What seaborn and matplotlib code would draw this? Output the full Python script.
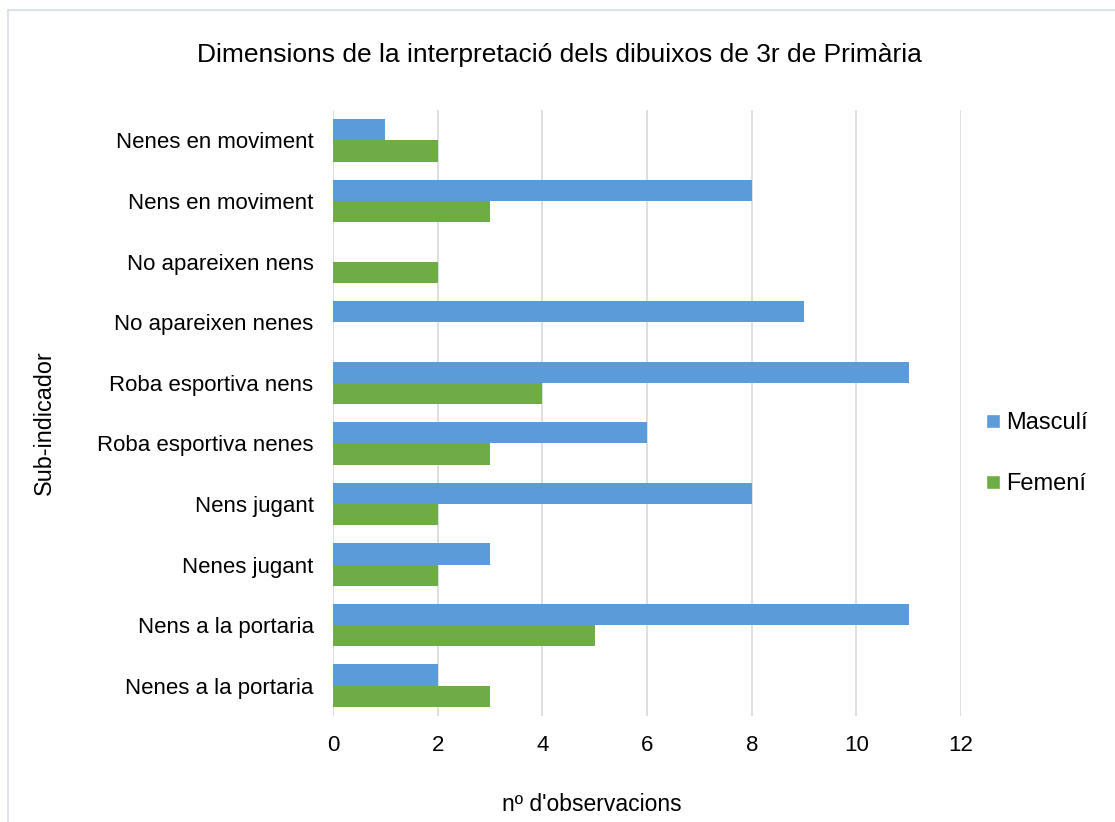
import numpy as np
import pandas as pd
import matplotlib.pyplot as plt
import seaborn as sns
from matplotlib.lines import Line2D

# dades llegides del gràfic (de dalt a baix)
categories = [
    "Nenes en moviment",
    "Nens en moviment",
    "No apareixen nens",
    "No apareixen nenes",
    "Roba esportiva nens",
    "Roba esportiva nenes",
    "Nens jugant",
    "Nenes jugant",
    "Nens a la portaria",
    "Nenes a la portaria",
]
masculi = [1, 8, 0, 9, 11, 6, 8, 3, 11, 2]
femeni = [2, 3, 2, 0, 4, 3, 2, 2, 5, 3]
x_ticks = [0, 2, 4, 6, 8, 10, 12]

df = pd.DataFrame({
    "Sub-indicador": categories * 2,
    "valor": masculi + femeni,
    "Sexe": ["Masculí"] * len(categories) + ["Femení"] * len(categories),
})

sns.set_style("white")
plt.rcParams['font.family'] = ['Liberation Sans', 'DejaVu Sans']
plt.rcParams['text.color'] = 'black'
plt.rcParams['xtick.color'] = 'black'
plt.rcParams['ytick.color'] = 'black'

fig = plt.figure(figsize=(11.15, 8.22), dpi=100)
ax = fig.add_axes([0.2987, 0.129, 0.5633, 0.737])

colors = {"Masculí": "#5B9BD9", "Femení": "#6EAD45"}
sns.barplot(data=df, x="valor", y="Sub-indicador", hue="Sexe",
            order=categories, hue_order=["Masculí", "Femení"],
            palette=colors, saturation=1, width=0.7, orient="h", ax=ax,
            edgecolor="none", linewidth=0, legend=False)

ax.set_xlim(0, 12)
ax.set_xticks(x_ticks)
ax.set_xticklabels([str(t) for t in x_ticks], fontsize=16)
ax.tick_params(axis="y", labelsize=16, length=0, pad=14)
ax.tick_params(axis="x", length=0, pad=14)
ax.grid(axis="x", color="#D9D9D9", linewidth=1.2)
ax.set_axisbelow(True)
for s in ax.spines.values():
    s.set_visible(False)

ax.set_xlabel("")
ax.set_ylabel("")
fig.text(0.531, 0.021, "nº d'observacions", ha="center", va="center", fontsize=16.5)
fig.text(0.040, 0.486, "Sub-indicador", ha="center", va="center",
         rotation=90, fontsize=16.8)
fig.text(0.502, 0.933, "Dimensions de la interpretació dels dibuixos de 3r de Primària",
         ha="center", va="center", fontsize=19)

handles = [Line2D([0], [0], marker="s", color="w", markerfacecolor=colors[k],
                  markersize=9.5, linestyle="none") for k in ["Masculí", "Femení"]]
fig.legend(handles, ["Masculí", "Femení"], loc="center left",
           bbox_to_anchor=(0.861, 0.448), frameon=False, fontsize=17,
           labelspacing=1.65, handletextpad=0.05, handlelength=1.0)

# marc del gràfic (esquerra i dalt visibles)
fig.add_artist(Line2D([0.0075, 0.0075], [0.0, 0.988], color="#DDE1E8", linewidth=1.5))
fig.add_artist(Line2D([0.0075, 1.0], [0.988, 0.988], color="#DDE1E8", linewidth=1.5))

fig.savefig("out.png", dpi=100)
